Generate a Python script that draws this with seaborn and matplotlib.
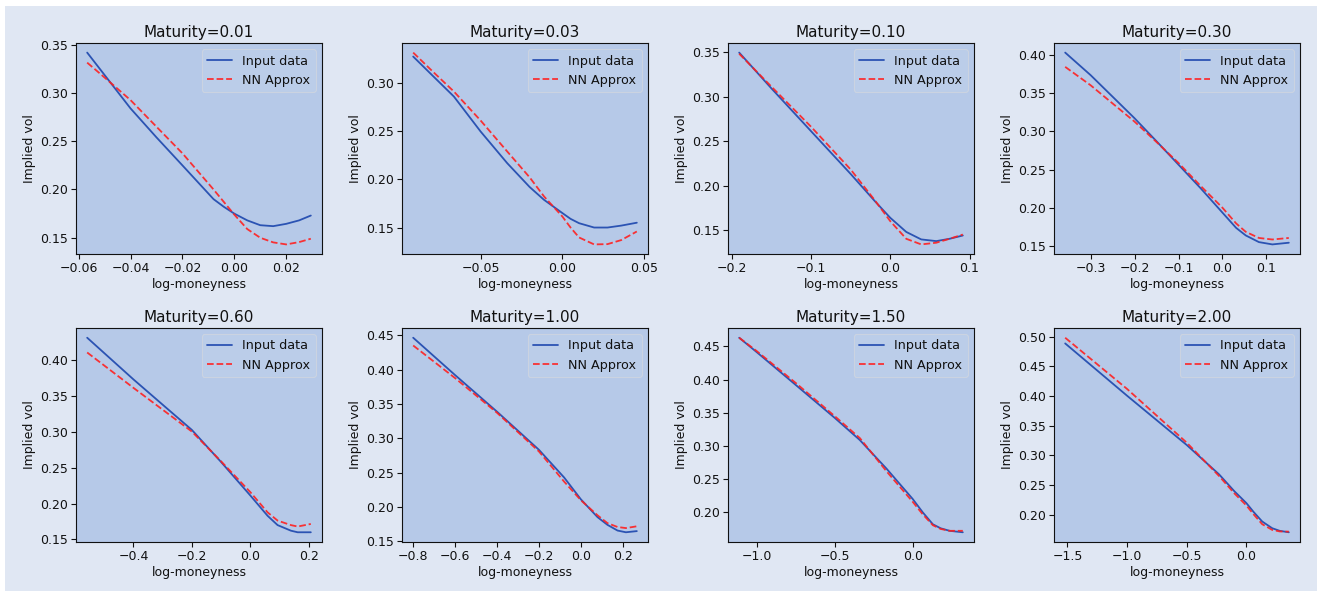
import numpy as np
import pandas as pd
import matplotlib
matplotlib.use("Agg")
import matplotlib.pyplot as plt
from matplotlib.patches import Rectangle
import seaborn as sns

# ---------------- data ----------------
maturities = [0.01, 0.03, 0.10, 0.30, 0.60, 1.00, 1.50, 2.00]

x_001 = [-0.0567, -0.05, -0.04, -0.03, -0.02, -0.008, -0.004, 0.0, 0.005, 0.01, 0.015, 0.02, 0.025, 0.0295]
iv_001 = [0.3418, 0.3186, 0.284, 0.254, 0.225, 0.190, 0.182, 0.175, 0.168, 0.163, 0.162, 0.1644, 0.168, 0.173]
nn_001 = [0.3314, 0.316, 0.2926, 0.265, 0.2375, 0.200, 0.187, 0.174, 0.159, 0.150, 0.1452, 0.1431, 0.1455, 0.149]

x_003 = [-0.0912, -0.08, -0.0663, -0.05, -0.0337, -0.02, -0.0112, 0.0, 0.005, 0.0102, 0.0194, 0.0276, 0.036, 0.0455]
iv_003 = [0.3273, 0.3086, 0.2858, 0.2496, 0.2167, 0.192, 0.1787, 0.165, 0.159, 0.1545, 0.150, 0.150, 0.152, 0.155]
nn_003 = [0.3314, 0.313, 0.291, 0.261, 0.2288, 0.202, 0.1822, 0.1614, 0.150, 0.1397, 0.1325, 0.1328, 0.137, 0.1459]

x_010 = [-0.1908, -0.15, -0.10, -0.05, -0.02, 0.0, 0.0201, 0.039, 0.058, 0.0747, 0.0915]
iv_010 = [0.3493, 0.309, 0.261, 0.213, 0.183, 0.1638, 0.148, 0.1396, 0.1377, 0.1403, 0.144]
nn_010 = [0.348, 0.311, 0.266, 0.218, 0.184, 0.160, 0.1403, 0.134, 0.1359, 0.1403, 0.1451]

x_030 = [-0.3579, -0.3, -0.2, -0.15, -0.1, -0.05, 0.0, 0.031, 0.053, 0.083, 0.1135, 0.151]
iv_030 = [0.4026, 0.3732, 0.317, 0.287, 0.2565, 0.226, 0.194, 0.1742, 0.1643, 0.1556, 0.1526, 0.1548]
nn_030 = [0.384, 0.360, 0.3126, 0.286, 0.2587, 0.229, 0.2004, 0.180, 0.169, 0.161, 0.159, 0.161]

x_060 = [-0.5582, -0.4, -0.3, -0.2, -0.1, 0.0, 0.059, 0.0933, 0.139, 0.162, 0.207]
iv_060 = [0.4314, 0.3733, 0.338, 0.3028, 0.258, 0.2113, 0.183, 0.170, 0.1622, 0.160, 0.160]
nn_060 = [0.4108, 0.3615, 0.331, 0.3005, 0.259, 0.216, 0.1878, 0.1763, 0.170, 0.168, 0.1716]

x_100 = [-0.8, -0.6, -0.4, -0.2, -0.0796, 0.0, 0.0796, 0.127, 0.175, 0.215, 0.267]
iv_100 = [0.4466, 0.3922, 0.3389, 0.2834, 0.243, 0.2113, 0.1853, 0.1741, 0.1658, 0.1633, 0.165]
nn_100 = [0.4353, 0.3878, 0.3373, 0.281, 0.237, 0.210, 0.188, 0.1766, 0.171, 0.1694, 0.172]

x_150 = [-1.113, -1.0, -0.75, -0.5, -0.339, -0.168, 0.0, 0.065, 0.13, 0.18, 0.237, 0.322]
iv_150 = [0.4632, 0.4414, 0.392, 0.3424, 0.309, 0.266, 0.2203, 0.200, 0.182, 0.176, 0.1722, 0.170]
nn_150 = [0.4632, 0.443, 0.395, 0.345, 0.312, 0.262, 0.216, 0.197, 0.1806, 0.175, 0.1722, 0.1722]

x_200 = [-1.519, -1.0, -0.5, -0.228, -0.1, 0.0, 0.06, 0.133, 0.217, 0.28, 0.356]
iv_200 = [0.4887, 0.4006, 0.3176, 0.268, 0.2396, 0.2198, 0.205, 0.1887, 0.1774, 0.173, 0.1706]
nn_200 = [0.4983, 0.412, 0.3216, 0.2652, 0.236, 0.2158, 0.201, 0.1842, 0.1746, 0.172, 0.1717]

panels = [
    (x_001, iv_001, nn_001), (x_003, iv_003, nn_003),
    (x_010, iv_010, nn_010), (x_030, iv_030, nn_030),
    (x_060, iv_060, nn_060), (x_100, iv_100, nn_100),
    (x_150, iv_150, nn_150), (x_200, iv_200, nn_200),
]

# ---------------- style ----------------
FIG_BG = "#e0e7f3"
AX_BG = "#b6c9e8"
BLUE = "#2b53b3"
RED = "#ff2020"
INK = "#111111"

sns.set_style("ticks", rc={"axes.facecolor": AX_BG, "axes.edgecolor": INK,
                           "xtick.color": INK, "ytick.color": INK,
                           "axes.labelcolor": INK, "text.color": INK})
plt.rcParams["font.family"] = ["DejaVu Sans"]
plt.rcParams["axes.linewidth"] = 0.8

W, H = 1317, 591
fig = plt.figure(figsize=(W / 100, H / 100), dpi=100)
fig.patch.set_facecolor("white")
fig.add_artist(Rectangle((5 / W, 0), 1 - 5 / W, 1 - 6 / H, transform=fig.transFigure,
                         facecolor=FIG_BG, edgecolor="none", zorder=-10))

lefts = [76, 402, 728, 1054]
rows = [(43, 254), (328, 542)]
axw = 246

for i, (T, (xs, iv, nn)) in enumerate(zip(maturities, panels)):
    r, c = divmod(i, 4)
    top, bot = rows[r]
    ax = fig.add_axes([lefts[c] / W, (H - bot) / H, axw / W, (bot - top) / H])
    ax.set_facecolor(AX_BG)
    df = pd.DataFrame({"k": xs, "iv": iv, "nn": nn})
    sns.lineplot(data=df, x="k", y="iv", ax=ax, color=BLUE, lw=1.3, label="Input data")
    sns.lineplot(data=df, x="k", y="nn", ax=ax, color=RED, lw=1.3, ls="--", alpha=0.9,
                 label="NN Approx")
    ax.set_title(f"Maturity={T:.2f}", fontsize=11, pad=4, color=INK)
    ax.set_xlabel("log-moneyness", fontsize=9, labelpad=2)
    ax.set_ylabel("Implied vol", fontsize=9, labelpad=3)
    ax.tick_params(labelsize=9, length=3.5, width=0.8, pad=2.5)
    leg = ax.legend(loc="upper right", fontsize=9.2, frameon=True, facecolor="#bdcfea",
                    edgecolor="#d0d6e0", framealpha=0.8, fancybox=True)
    leg.get_frame().set_linewidth(0.8)

fig.savefig("out.png", dpi=100, facecolor=fig.get_facecolor())
